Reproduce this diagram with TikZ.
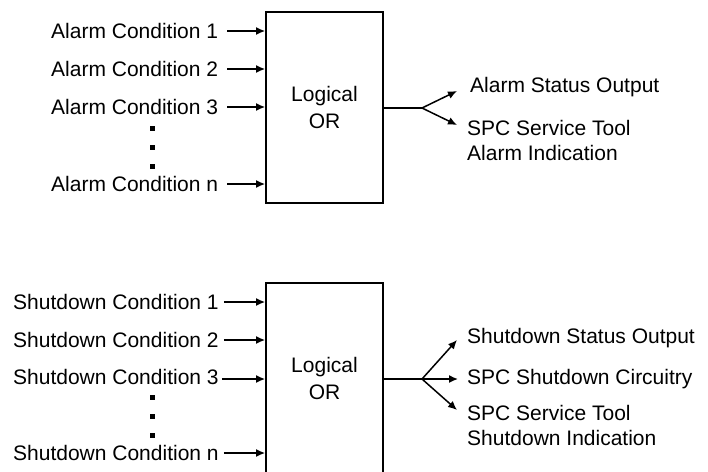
\documentclass[tikz,border=0pt]{standalone}
\usepackage{fontspec}
\setmainfont{Liberation Sans}
\usetikzlibrary{arrows.meta}
\begin{document}
\begin{tikzpicture}[x=1pt,y=-1pt,
  lbl/.style={font=\fontsize{21}{25}\selectfont, inner sep=0pt, anchor=west},
  orbox/.style={draw, line width=1.8pt, minimum width=117pt, minimum height=191pt,
    align=center, font=\fontsize{21}{27}\selectfont, inner sep=0pt},
  conn/.style={line width=1.5pt},
  arr/.style={conn, -{Latex[length=9pt,width=8pt]}},
  dotsq/.style={fill=black}
]
\useasboundingbox (0,0) rectangle (708,471);

% ---------- top block ----------
\node[orbox] (box1) at (324.5,107.5) {Logical\\OR};
\node[lbl] (a1) at (51,31) {Alarm Condition 1};
\node[lbl] (a2) at (51,69) {Alarm Condition 2};
\node[lbl] (a3) at (51,107) {Alarm Condition 3};
\node[lbl] (an) at (51,184) {Alarm Condition n};
\foreach \n in {a1,a2,a3,an}
  \draw[arr] ([xshift=9pt]\n.east) -- (\n.east -| box1.west);
\foreach \y in {128,147,166}
  \fill[dotsq] (150,\y-2) rectangle (154.5,\y+2.5);

\coordinate (s1) at (422,108);
\draw[conn] (box1.east |- s1) -- (s1);
\coordinate (t11) at (457,91);
\coordinate (t12) at (457,125);
\draw[arr] (s1) -- (t11);
\draw[arr] (s1) -- (t12);
\node[lbl] (o11) at (470,87) {Alarm Status Output};
\node[lbl, anchor=north west, align=left] (o12) at (467,120) {SPC Service Tool\\Alarm Indication};

% ---------- bottom block ----------
\node[orbox] (box2) at (324.5,378.5) {Logical\\OR};
\node[lbl] (b1) at (13,302) {Shutdown Condition 1};
\node[lbl] (b2) at (13,340) {Shutdown Condition 2};
\node[lbl] (b3) at (13,377) {Shutdown Condition 3};
\node[lbl] (bn) at (13,453) {Shutdown Condition n};
\foreach \n in {b1,b2,bn}
  \draw[arr] ([xshift=5pt]\n.east) -- (\n.east -| box2.west);
\draw[arr] ([xshift=3pt]b3.east |- 0,379) -- (box2.west |- 0,379);
\foreach \y in {397,416,435}
  \fill[dotsq] (150,\y-2) rectangle (154.5,\y+2.5);

\coordinate (s2) at (422,379);
\draw[conn] (box2.east |- s2) -- (s2);
\coordinate (t21) at (457,340);
\coordinate (t22) at (458,379);
\coordinate (t23) at (457,410);
\draw[arr] (s2) -- (t21);
\draw[arr] (s2) -- (t22);
\draw[arr] (s2) -- (t23);
\node[lbl] (o21) at (467,338) {Shutdown Status Output};
\node[lbl] (o22) at (467,379) {SPC Shutdown Circuitry};
\node[lbl, anchor=north west, align=left] (o23) at (467,405) {SPC Service Tool\\Shutdown Indication};
\end{tikzpicture}
\end{document}
